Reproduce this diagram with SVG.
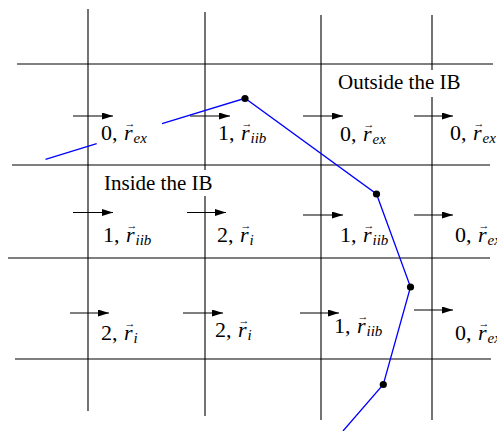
<svg xmlns="http://www.w3.org/2000/svg" width="497" height="431" viewBox="0 0 497 431">
<defs>
<style>
.grid{stroke:#000;stroke-width:1.1;fill:none}
.vel{stroke:#000;stroke-width:1.1;fill:none;marker-end:url(#ah)}
.curve{stroke:#0000ff;stroke-width:1.3;fill:none}
.dot{fill:#000}
.bg{fill:#fff;stroke:none}
.t{font-family:"Liberation Serif","Times New Roman",serif;fill:#000}
.lb{font-size:22px}
.ib{font-size:21px}
.it{font-style:italic}
.sub{font-style:italic;font-size:15px}
.vec{font-size:11px;text-anchor:middle}
</style>
<marker id="ah" markerUnits="userSpaceOnUse" markerWidth="12" markerHeight="8" refX="11" refY="3.5" orient="auto">
<path d="M0,0 L11,3.5 L0,7 Z" fill="#000"/>
</marker>
</defs>
<rect width="497" height="431" fill="#fff"/>
<g id="grid">
<line class="grid" x1="17" y1="64" x2="493" y2="64"/>
<line class="grid" x1="12" y1="165" x2="490" y2="165"/>
<line class="grid" x1="8" y1="258" x2="490" y2="258"/>
<line class="grid" x1="15" y1="359" x2="491" y2="359"/>
<line class="grid" x1="88" y1="9" x2="88" y2="411"/>
<line class="grid" x1="205" y1="12" x2="205" y2="416"/>
<line class="grid" x1="321" y1="15" x2="321" y2="420"/>
<line class="grid" x1="432" y1="15" x2="432" y2="420"/>
</g>
<g id="connectors">
<line class="vel" x1="73" y1="116" x2="113" y2="116"/>
<line class="vel" x1="190" y1="116" x2="230" y2="116"/>
<line class="vel" x1="303" y1="116" x2="343" y2="116"/>
<line class="vel" x1="414" y1="116" x2="453" y2="116"/>
<line class="vel" x1="73" y1="212.5" x2="113" y2="212.5"/>
<line class="vel" x1="187" y1="212.5" x2="226" y2="212.5"/>
<line class="vel" x1="303" y1="215" x2="343" y2="215"/>
<line class="vel" x1="414" y1="215" x2="453" y2="215"/>
<line class="vel" x1="70" y1="313" x2="109" y2="313"/>
<line class="vel" x1="183" y1="313" x2="223" y2="313"/>
<line class="vel" x1="300" y1="313" x2="339" y2="313"/>
<line class="vel" x1="414" y1="310" x2="453" y2="310"/>
<line class="curve" x1="45.5" y1="159.3" x2="96.7" y2="143.6"/>
<polyline class="curve" points="162,123.7 245,98.3 376.5,194 410.5,287 383.3,384.5 343,431"/>
</g>
<g id="markers">
<circle class="dot" cx="245" cy="98.5" r="3.6"/>
<circle class="dot" cx="376.5" cy="194" r="3.6"/>
<circle class="dot" cx="410.5" cy="287" r="3.6"/>
<circle class="dot" cx="383.3" cy="384.5" r="3.6"/>
</g>
<g id="outside-label">
<rect class="bg" x="334" y="70" width="133" height="27"/>
<text class="t ib" x="338" y="89">Outside the IB</text>
</g>
<g id="inside-label">
<rect class="bg" x="100" y="170" width="117" height="26"/>
<text class="t ib" x="104" y="190">Inside the IB</text>
</g>
<g id="cell-r1c1" transform="translate(101,140)">
<text class="t lb">0, <tspan class="it" dx="1">r</tspan><tspan class="vec" x="29" y="-13">→</tspan><tspan class="sub" x="32.5" y="3">ex</tspan></text>
</g>
<g id="cell-r1c2" transform="translate(218,140)">
<text class="t lb">1, <tspan class="it" dx="1">r</tspan><tspan class="vec" x="29" y="-13">→</tspan><tspan class="sub" x="32.5" y="3">iib</tspan></text>
</g>
<g id="cell-r1c3" transform="translate(340,141)">
<text class="t lb">0, <tspan class="it" dx="1">r</tspan><tspan class="vec" x="29" y="-13">→</tspan><tspan class="sub" x="32.5" y="3">ex</tspan></text>
</g>
<g id="cell-r1c4" transform="translate(450,140)">
<text class="t lb">0, <tspan class="it" dx="1">r</tspan><tspan class="vec" x="29" y="-13">→</tspan><tspan class="sub" x="32.5" y="3">ex</tspan></text>
</g>
<g id="cell-r2c1" transform="translate(103,242)">
<text class="t lb">1, <tspan class="it" dx="1">r</tspan><tspan class="vec" x="29" y="-13">→</tspan><tspan class="sub" x="32.5" y="3">iib</tspan></text>
</g>
<g id="cell-r2c2" transform="translate(217,242)">
<text class="t lb">2, <tspan class="it" dx="1">r</tspan><tspan class="vec" x="29" y="-13">→</tspan><tspan class="sub" x="32.5" y="3">i</tspan></text>
</g>
<g id="cell-r2c3" transform="translate(340,242)">
<text class="t lb">1, <tspan class="it" dx="1">r</tspan><tspan class="vec" x="29" y="-13">→</tspan><tspan class="sub" x="32.5" y="3">iib</tspan></text>
</g>
<g id="cell-r2c4" transform="translate(455,242)">
<text class="t lb">0, <tspan class="it" dx="1">r</tspan><tspan class="vec" x="29" y="-13">→</tspan><tspan class="sub" x="32.5" y="3">ex</tspan></text>
</g>
<g id="cell-r3c1" transform="translate(101,340)">
<text class="t lb">2, <tspan class="it" dx="1">r</tspan><tspan class="vec" x="29" y="-13">→</tspan><tspan class="sub" x="32.5" y="3">i</tspan></text>
</g>
<g id="cell-r3c2" transform="translate(215,337)">
<text class="t lb">2, <tspan class="it" dx="1">r</tspan><tspan class="vec" x="29" y="-13">→</tspan><tspan class="sub" x="32.5" y="3">i</tspan></text>
</g>
<g id="cell-r3c3" transform="translate(334,333)">
<text class="t lb">1, <tspan class="it" dx="1">r</tspan><tspan class="vec" x="29" y="-13">→</tspan><tspan class="sub" x="32.5" y="3">iib</tspan></text>
</g>
<g id="cell-r3c4" transform="translate(455,340)">
<text class="t lb">0, <tspan class="it" dx="1">r</tspan><tspan class="vec" x="29" y="-13">→</tspan><tspan class="sub" x="32.5" y="3">ex</tspan></text>
</g>
</svg>
